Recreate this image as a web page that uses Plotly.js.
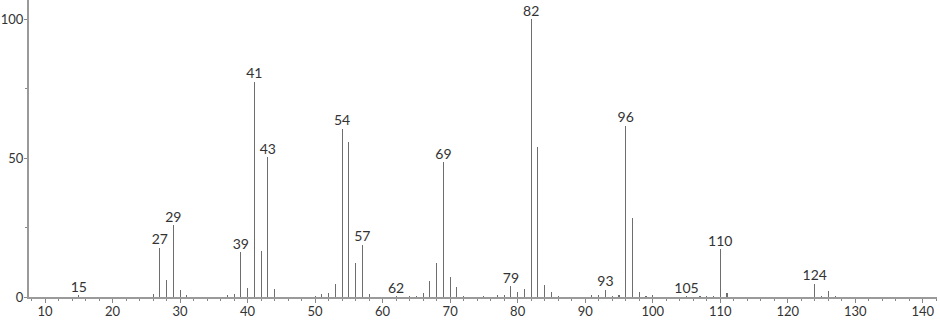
<!DOCTYPE html>
<html>
<head>
<meta charset="utf-8">
<script src="https://cdn.plot.ly/plotly-3.0.1.min.js"></script>
<style>
html,body{margin:0;padding:0;background:#fff;}
#chart{width:940px;height:320px;}
</style>
</head>
<body>
<div id="chart"></div>
<script>
const mz = [15, 26, 27, 28, 29, 30, 31, 37, 38, 39, 40, 41, 42, 43, 44,
  50, 51, 52, 53, 54, 55, 56, 57, 58, 62, 64, 65, 66, 67, 68, 69, 70, 71, 72,
  75, 77, 78, 79, 80, 81, 82, 83, 84, 85, 86, 91, 92, 93, 94, 95, 96, 97, 98,
  99, 100, 105, 107, 108, 109, 110, 111, 124, 125, 126, 127];
const intensity = [0.6, 1.0, 17.7, 6.3, 25.8, 2.7, 0.6, 0.6, 1.0, 16.1, 3.1, 77.6, 16.4, 50.4, 2.9,
  0.5, 1.1, 1.5, 4.7, 60.7, 55.9, 12.3, 18.9, 1.1, 0.3, 0.4, 0.5, 1.3, 5.6, 12.3, 48.5, 7.1, 3.7, 0.4,
  0.5, 0.9, 0.6, 3.9, 1.7, 2.9, 100, 54.2, 4.5, 1.9, 0.5, 0.9, 0.6, 2.6, 0.5, 0.9, 61.7, 28.5, 1.9,
  0.3, 0.7, 0.3, 0.3, 0.4, 0.4, 17.2, 1.3, 4.7, 0.4, 2.0, 0.5];
const labelMz = [15, 27, 29, 39, 41, 43, 54, 57, 62, 69, 79, 82, 93, 96, 105, 110, 124];
const xTickVals = [10, 20, 30, 40, 50, 60, 70, 80, 90, 100, 110, 120, 130, 140];
const yTickVals = [0, 50, 100];

const labelY = labelMz.map(m => intensity[mz.indexOf(m)]);
const labelText = labelMz.map(m => String(m));

const fontFam = 'Lato, "Open Sans", sans-serif';

const bars = {
  type: 'bar', x: mz, y: intensity, width: 0.16,
  marker: {color: '#6e6e6e', line: {width: 0}},
  hoverinfo: 'x+y', showlegend: false
};
const labels = {
  type: 'scatter', mode: 'text', x: labelMz, y: labelY, text: labelText,
  textposition: 'top center',
  textfont: {family: fontFam, size: 14, color: '#333'},
  hoverinfo: 'skip', showlegend: false, cliponaxis: false
};

const layout = {
  width: 940, height: 320,
  margin: {l: 29, r: 3, t: 0, b: 23, pad: 0},
  paper_bgcolor: '#fff', plot_bgcolor: '#fff',
  bargap: 0,
  font: {family: fontFam, size: 13, color: '#333'},
  xaxis: {
    range: [7.63, 142.1], tickvals: xTickVals, ticks: 'outside', ticklen: 4,
    tickcolor: '#888', tickwidth: 1, showgrid: false, zeroline: false,
    showline: true, linecolor: '#9a9a9a', linewidth: 2,
    ticklabelstandoff: -3,
    minor: {dtick: 2, tick0: 0, ticks: 'outside', ticklen: 2, tickcolor: '#888', tickwidth: 1, showgrid: false},
    tickfont: {family: fontFam, size: 13, color: '#333'}, fixedrange: true
  },
  yaxis: {
    range: [0, 107], tickvals: yTickVals, ticks: 'outside', ticklen: 3,
    tickcolor: '#888', tickwidth: 1, showgrid: false, zeroline: false,
    showline: true, linecolor: '#9a9a9a', linewidth: 2,
    ticklabelstandoff: -2,
    minor: {dtick: 25, tick0: 0, ticks: 'outside', ticklen: 2, tickcolor: '#888', tickwidth: 1, showgrid: false},
    tickfont: {family: fontFam, size: 13, color: '#333'}, fixedrange: true
  }
};

Plotly.newPlot('chart', [bars, labels], layout, {displayModeBar: false, staticPlot: true});
</script>
</body>
</html>
